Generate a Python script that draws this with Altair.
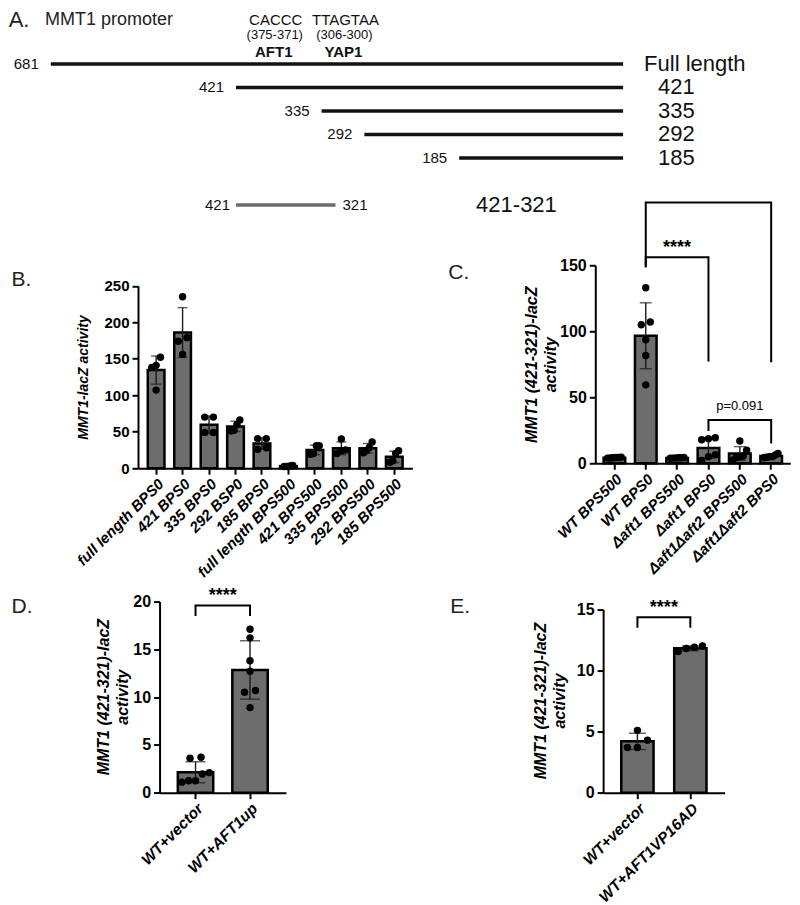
import json
import altair as alt
import pandas as pd

S = 0.98
FONT = "Liberation Sans"
INK = "#111111"
BAR_FILL = "#6d6d6d"

# ---------------- Panel A data ----------------
a_constructs = ["Full length", "421", "335", "292", "185", "421-321"]
a_starts = [681, 421, 335, 292, 185, 421]
a_ends = [0, 0, 0, 0, 0, 321]
a_lanes = ["Full length", "421", "335", "292", "185", "gap", "421-321"]
a_motif_seq = ["CACCC", "TTAGTAA"]
a_motif_from = [375, 306]
a_motif_to = [371, 300]
a_motif_factor = ["AFT1", "YAP1"]

# ---------------- Panel B data ----------------
b_groups = ["full length BPS0", "421 BPS0", "335 BPS0", "292 BSP0", "185 BPS0",
            "full length BPS500", "421 BPS500", "335 BPS500", "292 BPS500", "185 BPS500"]
b_values = [
    [152, 141, 138, 107],
    [235, 179, 174, 156],
    [70, 70, 49, 49],
    [66, 60, 52, 51],
    [40.5, 40.5, 28, 26],
    [3.6, 2.2, 3.1, 2.2],
    [30.6, 30.6, 20, 19],
    [40, 24, 25, 20],
    [36, 28, 24, 21],
    [24, 20, 10, 8],
]

# ---------------- Panel C data ----------------
c_groups = ["WT BPS500", "WT BPS0", "Δaft1 BPS500", "Δaft1 BPS0",
            "Δaft1Δaft2 BPS500", "Δaft1Δaft2 BPS0"]
c_values = [
    [4.1, 4.4, 3.9, 4.3, 4.0, 4.5],
    [133, 107, 105, 93.5, 81.7, 59.4],
    [4.0, 4.3, 3.8, 4.2, 4.1, 3.9],
    [18.6, 19.3, 17.8, 2.2, 6.5, 5.0],
    [16.8, 9.9, 5.0, 2.5, 5.5, 4.5],
    [7.5, 6.2, 5.0, 4.6, 4.3, 5.0],
]
c_br_from = ["WT BPS0", "WT BPS0", "Δaft1 BPS0"]
c_br_to = ["Δaft1 BPS0", "Δaft1Δaft2 BPS0", "Δaft1Δaft2 BPS0"]
c_br_level = [156, 197.5, 32.7]
c_br_from_end = [148.5, 148.5, 24.5]
c_br_to_end = [77, 76.5, 15]
c_stars_at = "Δaft1 BPS500"
c_stars_y = 163
c_p_text = "p=0.091"
c_p_at = "Δaft1Δaft2 BPS500"
c_p_y = 43

# ---------------- Panel D data ----------------
d_groups = ["WT+vector", "WT+AFT1up"]
d_values = [[3.6, 3.7, 1.95, 2.1, 1.1, 1.25, 1.25],
            [17.1, 16.2, 13.8, 12.7, 10.7, 10.5, 8.9]]
d_br_level = 19.6
d_br_end = 18.5
d_stars_y = 20.6

# ---------------- Panel E data ----------------
e_groups = ["WT+vector", "WT+AFT1VP16AD"]
e_values = [[5.1, 4.3, 3.7, 3.7],
            [11.55, 12.0, 11.8, 11.9]]
e_br_level = 14.35
e_br_end = 13.5
e_stars_y = 15.1

TITLE2 = ["MMT1 (421-321)-lacZ", "activity"]


def one():
    return alt.Data(values=[{}])


def label(txt, x, y, size, weight="normal", align="left", color=INK, style="normal"):
    return alt.Chart(one()).mark_text(
        text=txt, align=align, baseline="middle", fontSize=size, fontWeight=weight,
        fontStyle=style, font=FONT, color=color
    ).encode(x=alt.value(x), y=alt.value(y))


# ================= Panel A =================
seg = pd.DataFrame({"construct": a_constructs, "start": a_starts, "end": a_ends})
seg["start_label"] = seg["start"].astype(str)
seg["end_label"] = seg["end"].astype(str)

# schematic is not drawn to scale: piecewise-linear position scale
xscaleA = alt.Scale(domain=[681, 421, 292, 0],
                    range=[(43 - 132) * S, (232 - 132) * S, (363 - 132) * S, (627 - 132) * S],
                    zero=False, nice=False)
yA = alt.Y("construct:N", axis=None,
           scale=alt.Scale(type="point", domain=a_lanes, range=[56 * S, 200 * S], padding=0))

segs = alt.Chart(seg).mark_rule(strokeWidth=3.5).encode(
    x=alt.X("start:Q", scale=xscaleA, axis=None), x2="end:Q", y=yA,
    color=alt.condition(alt.datum.construct == "421-321", alt.value("#6b6b6b"), alt.value(INK)),
)
left_main = alt.Chart(seg).transform_filter(alt.datum.end == 0).mark_text(
    align="right", baseline="middle", dx=-12, fontSize=15, font=FONT, color=INK
).encode(x=alt.X("start:Q", scale=xscaleA, axis=None), y=yA, text="start_label:N")
left_sub = alt.Chart(seg).transform_filter(alt.datum.end != 0).mark_text(
    align="right", baseline="middle", dx=-6, fontSize=15, font=FONT, color=INK
).encode(x=alt.X("start:Q", scale=xscaleA, axis=None), y=yA, text="start_label:N")
right_sub = alt.Chart(seg).transform_filter(alt.datum.end != 0).mark_text(
    align="left", baseline="middle", dx=7, fontSize=15, font=FONT, color=INK
).encode(x=alt.X("end:Q", scale=xscaleA, axis=None), y=yA, text="end_label:N")
right_full = alt.Chart(seg).transform_filter(alt.datum.construct == "Full length").mark_text(
    align="left", baseline="middle", dx=21, fontSize=22, font=FONT, color=INK
).encode(x=alt.X("end:Q", scale=xscaleA, axis=None), y=yA, text="construct:N")
right_nums = alt.Chart(seg).transform_filter(
    (alt.datum.end == 0) & (alt.datum.construct != "Full length")
).mark_text(
    align="left", baseline="middle", dx=35, fontSize=22, font=FONT, color=INK
).encode(x=alt.X("end:Q", scale=xscaleA, axis=None), y=yA, text="construct:N")
sub_name = alt.Chart(seg).transform_filter(alt.datum.end != 0).mark_text(
    align="left", baseline="middle", fontSize=22, font=FONT, color=INK
).encode(x=alt.value((477 - 132) * S), y=yA, text="construct:N")

mot = pd.DataFrame({"seq": a_motif_seq, "a": a_motif_from, "b": a_motif_to, "factor": a_motif_factor})
mot["rng"] = ["(%d-%d)" % (p, q) for p, q in zip(a_motif_from, a_motif_to)]
motbase = alt.Chart(mot).transform_calculate(mid="(datum.a + datum.b) / 2")
mot_seq = motbase.mark_text(fontSize=15, font=FONT, color=INK, baseline="middle", dx=-8).encode(
    x=alt.X("mid:Q", scale=xscaleA, axis=None), y=alt.value(11 * S), text="seq:N")
mot_rng = motbase.mark_text(fontSize=13, font=FONT, color=INK, baseline="middle", dx=-9).encode(
    x=alt.X("mid:Q", scale=xscaleA, axis=None), y=alt.value(27 * S), text="rng:N")
mot_fac = motbase.mark_text(fontSize=15, fontWeight="bold", font=FONT, color=INK, baseline="middle", dx=-10).encode(
    x=alt.X("mid:Q", scale=xscaleA, axis=None), y=alt.value(44 * S), text="factor:N")

panelA = alt.layer(
    segs, left_main, left_sub, right_sub, right_full, right_nums, sub_name,
    mot_seq, mot_rng, mot_fac,
    label("A.", -132 * S, 11 * S, 22, color="#222222"),
    label("MMT1 promoter", (37 - 132) * S, 11 * S, 18, color="#222222"),
).properties(width=280 * S, height=125 * S)


# ================= bar panels =================
def bar_panel(groups, values, width, height, xrange, pi, po, ydomain, yrange, yticks,
              ytitle, title_size, title_x, title_y, offset, label_size, tick_label_size,
              thr, sp, cap, extra):
    df = pd.DataFrame([{"group": g, "value": v} for g, vs in zip(groups, values) for v in vs])
    n = len(groups)
    units = n - pi + 2 * po
    step = (xrange[1] - xrange[0]) / units
    bw = step * (1 - pi)
    xs = alt.Scale(domain=groups, range=xrange, paddingInner=pi, paddingOuter=po)
    xaxis = alt.Axis(title=None, labelAngle=315, labelAlign="right", labelBaseline="top",
                     labelFont=FONT, labelFontSize=label_size, labelFontWeight="bold",
                     labelFontStyle="italic", labelColor="black", labelPadding=2, labelLimit=400,
                     domainColor="black", domainWidth=2, tickColor="black", tickWidth=2, tickSize=6)
    x = alt.X("group:N", scale=xs, axis=xaxis)
    ys = alt.Scale(domain=ydomain, range=yrange, nice=False, zero=True)
    yaxis = alt.Axis(values=yticks, title=ytitle, grid=False, offset=offset,
                     titleFont=FONT, titleFontSize=title_size, titleFontWeight="bold",
                     titleFontStyle="italic", titleColor="black", titleAngle=270,
                     titleX=title_x, titleY=title_y, titleAlign="center", titleBaseline="middle",
                     titleLineHeight=19,
                     labelFont=FONT, labelFontSize=tick_label_size, labelFontWeight="bold",
                     labelColor="black", labelPadding=3, domainColor="black", domainWidth=2,
                     tickColor="black", tickWidth=2, tickSize=6)

    def Y(field):
        return alt.Y(field, scale=ys, axis=yaxis, title=ytitle)

    base = alt.Chart(df)
    bars = base.mark_bar(fill=BAR_FILL, stroke="black", strokeWidth=2.5).encode(
        x=x, y=Y("mean(value):Q"))
    eb = base.transform_aggregate(m="mean(value)", sd="stdev(value)", groupby=["group"]).transform_calculate(
        lo="datum.m - datum.sd", hi="datum.m + datum.sd")
    ebar = eb.mark_rule(color="#1a1a1a", strokeWidth=1.4).encode(
        x=x, y=Y("lo:Q"), y2="hi:Q")
    ecap = eb.transform_fold(["lo", "hi"], as_=["k", "v"]).mark_tick(
        orient="horizontal", size=cap, thickness=1.4, color="#1a1a1a").encode(
        x=x, y=Y("v:Q"))
    maxoff = bw / 2 - 4
    order_expr = "indexof(%s, datum.group)" % json.dumps(groups, ensure_ascii=False)
    dots = (base
            .transform_window(prev="lag(value)", groupby=["group"], sort=[alt.SortField("value")])
            .transform_calculate(newc="(datum.prev == null || datum.value - datum.prev > %f) ? 1 : 0" % thr)
            .transform_window(cid="sum(newc)", groupby=["group"], sort=[alt.SortField("value")], frame=[None, 0])
            .transform_joinaggregate(n="count()", groupby=["group", "cid"])
            .transform_window(r="row_number()", groupby=["group", "cid"], sort=[alt.SortField("value")])
            .transform_calculate(off="(datum.r - (datum.n + 1) / 2) * min(%f, %f / max(1, datum.n - 1))" % (sp, 2 * maxoff))
            .transform_calculate(pos="%s + %f + datum.off / %f" % (order_expr, po + (1 - pi) / 2, step))
            .mark_circle(size=55, color="black", opacity=1)
            .encode(x=alt.X("pos:Q", axis=None,
                            scale=alt.Scale(domain=[0, units], range=xrange, zero=False, nice=False)),
                    y=Y("value:Q")))
    inner = alt.layer(bars, ebar, ecap, *[f(x, Y, step) for f in extra])
    return alt.layer(inner, dots).resolve_scale(x="independent").properties(width=width, height=height)


def bracket_layer(frm, to, level, frm_end, to_end):
    rows = []
    for i, (a, b, lv, ea, eb_) in enumerate(zip(frm, to, level, frm_end, to_end)):
        rows += [{"bid": i, "k": 0, "group": a, "y": ea},
                 {"bid": i, "k": 1, "group": a, "y": lv},
                 {"bid": i, "k": 2, "group": b, "y": lv},
                 {"bid": i, "k": 3, "group": b, "y": eb_}]
    bdf = pd.DataFrame(rows)

    def f(x, Y, step):
        return alt.Chart(bdf).mark_line(color="black", strokeWidth=2).encode(
            x=x, y=Y("y:Q"), detail="bid:N", order="k:Q")
    return f


def note_layer(txt, at, yv, size, weight, dx_steps=0.0):
    ndf = pd.DataFrame({"group": [at], "y": [yv], "t": [txt]})

    def f(x, Y, step):
        return alt.Chart(ndf).mark_text(fontSize=size, fontWeight=weight, font=FONT, color="black",
                                        baseline="middle", dx=dx_steps * step).encode(
            x=x, y=Y("y:Q"), text="t:N")
    return f


def letter_layer(txt, lx, ly):
    def f(x, Y, step):
        return label(txt, lx, ly, 21, color="#222222")
    return f


HALF_LINE = 9.5  # a two-line rotated title grows rightwards from titleX

panelB = bar_panel(
    b_groups, b_values, width=280 * S, height=207 * S, xrange=[0, 280 * S], pi=0.37, po=0.37,
    ydomain=[0, 250], yrange=[207 * S, 21 * S], yticks=[0, 50, 100, 150, 200, 250],
    ytitle="MMT1-lacZ activity", title_size=14, title_x=-56 * S, title_y=114 * S, offset=0,
    label_size=15, tick_label_size=15, thr=11, sp=9, cap=10,
    extra=[letter_layer("B.", -129 * S, 15 * S)])

panelC = bar_panel(
    c_groups, c_values, width=199 * S, height=202 * S, xrange=[0, 199 * S], pi=0.31, po=0.265,
    ydomain=[0, 150], yrange=[202 * S, 0], yticks=[0, 50, 100, 150],
    ytitle=TITLE2, title_size=16, title_x=-55 * S - HALF_LINE, title_y=101 * S, offset=0,
    label_size=15, tick_label_size=16, thr=6, sp=9, cap=12,
    extra=[bracket_layer(c_br_from, c_br_to, c_br_level, c_br_from_end, c_br_to_end),
           note_layer("****", c_stars_at, c_stars_y, 18, "bold"),
           note_layer(c_p_text, c_p_at, c_p_y, 13, "normal"),
           letter_layer("C.", -150 * S, 8 * S)])

panelD = bar_panel(
    d_groups, d_values, width=151 * S, height=195 * S, xrange=[22 * S, 151 * S], pi=0.35, po=0.335,
    ydomain=[0, 20], yrange=[195 * S, 0], yticks=[0, 5, 10, 15, 20],
    ytitle=TITLE2, title_size=16, title_x=-48 * S - HALF_LINE, title_y=97 * S, offset=-22 * S,
    label_size=15.5, tick_label_size=16, thr=0.84, sp=11, cap=20,
    extra=[bracket_layer([d_groups[0]], [d_groups[1]], [d_br_level], [d_br_end], [d_br_end]),
           note_layer("****", d_groups[0], d_stars_y, 18, "bold", dx_steps=0.5),
           letter_layer("D.", -129 * S, 6 * S)])

panelE = bar_panel(
    e_groups, e_values, width=132 * S, height=195 * S, xrange=[8 * S, 132 * S], pi=0.39, po=0.343,
    ydomain=[0, 15], yrange=[195 * S, 8 * S], yticks=[0, 5, 10, 15],
    ytitle=TITLE2, title_size=16, title_x=-54 * S - HALF_LINE, title_y=101 * S, offset=-8 * S,
    label_size=15.5, tick_label_size=16, thr=0.64, sp=10, cap=17,
    extra=[bracket_layer([e_groups[0]], [e_groups[1]], [e_br_level], [e_br_end], [e_br_end]),
           note_layer("****", e_groups[0], e_stars_y, 18, "bold", dx_steps=0.5),
           letter_layer("E.", -148 * S, 6 * S)])

blank = alt.Chart(one()).mark_point(opacity=0).encode(x=alt.value(5), y=alt.value(5)).properties(
    width=10, height=10)

chart = alt.concat(
    panelA, blank, panelB, panelC, panelD, panelE,
    columns=2, spacing=alt.RowColnumber(row=136 * S, column=186 * S),
    bounds="flush", align="each",
).properties(padding=0).configure(font=FONT).configure_view(strokeWidth=0)

chart.save("out.html", embed_options={"renderer": "svg", "actions": False})
